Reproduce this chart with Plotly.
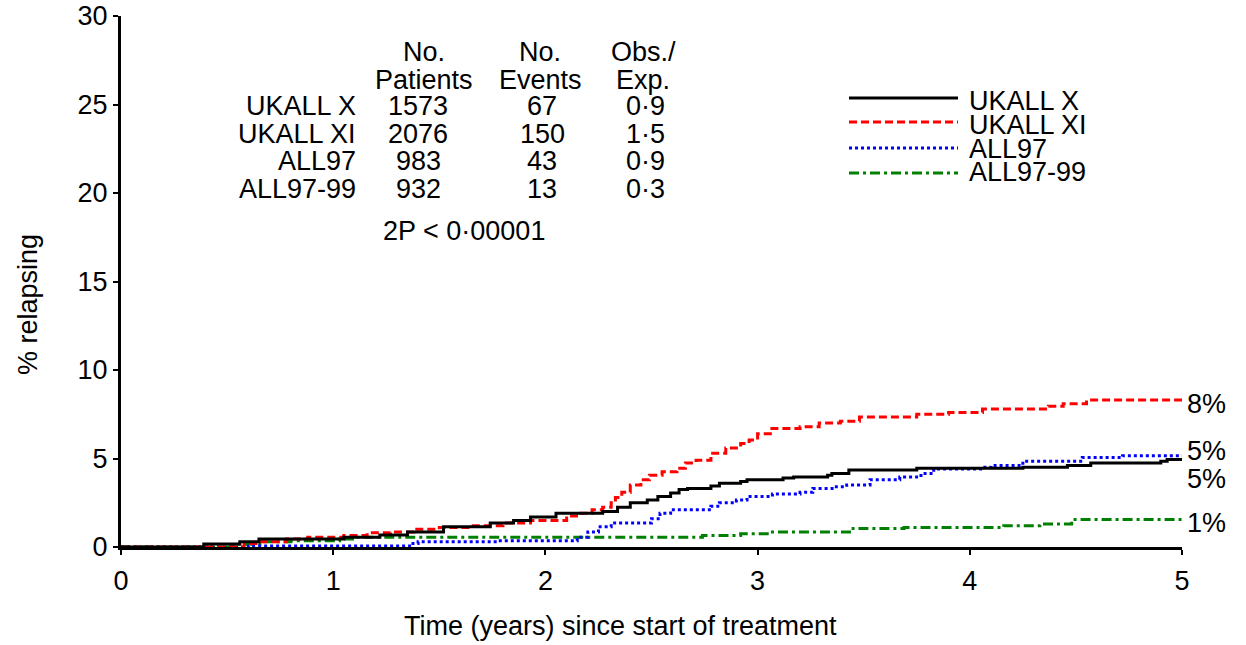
import plotly.graph_objects as go

# ---- data ----
years = [0, 1, 2, 3, 4, 5]
pct_ticks = [0, 5, 10, 15, 20, 25, 30]

series_names = ["UKALL X", "UKALL XI", "ALL97", "ALL97-99"]

ukx_t = [0, 0.39, 0.56, 0.65, 1.05, 1.22, 1.35, 1.52, 1.74, 1.85, 1.93, 2.05, 2.27, 2.34, 2.40,
         2.48, 2.53, 2.59, 2.63, 2.67, 2.78, 2.82, 2.92, 2.95, 3.12, 3.17, 3.33, 3.35, 3.43, 3.75,
         4.25, 4.46, 4.57, 4.90, 4.93, 5.0]
ukx_v = [0, 0.17, 0.3, 0.45, 0.55, 0.68, 0.85, 1.15, 1.35, 1.5, 1.7, 1.9, 2.0, 2.25, 2.5,
         2.65, 2.85, 3.05, 3.25, 3.3, 3.45, 3.6, 3.7, 3.8, 3.9, 3.95, 4.05, 4.15, 4.35, 4.45,
         4.5, 4.6, 4.75, 4.85, 4.95, 4.95]

ukxi_t = [0, 0.58, 0.65, 0.78, 0.88, 1.05, 1.16, 1.27, 1.38, 1.5, 1.66, 1.8, 1.93, 2.1, 2.16,
          2.22, 2.27, 2.31, 2.33, 2.36, 2.40, 2.45, 2.49, 2.55, 2.62, 2.66, 2.71, 2.78, 2.85,
          2.92, 2.96, 3.0, 3.06, 3.2, 3.29, 3.39, 3.48, 3.75, 3.9, 4.06, 4.37, 4.44, 4.55, 5.0]
ukxi_v = [0, 0.2, 0.3, 0.45, 0.55, 0.65, 0.8, 0.85, 1.0, 1.1, 1.2, 1.35, 1.5, 1.75, 1.9,
          2.1, 2.25, 2.5, 2.8, 3.1, 3.5, 3.8, 4.05, 4.25, 4.45, 4.75, 4.9, 5.3, 5.6,
          5.85, 6.05, 6.4, 6.7, 6.8, 7.0, 7.1, 7.35, 7.5, 7.6, 7.8, 7.95, 8.1, 8.3, 8.3]

all97_t = [0, 0.6, 1.36, 1.4, 1.78, 2.15, 2.2, 2.25, 2.31, 2.5, 2.54, 2.59, 2.78, 2.82, 2.9,
           2.95, 3.07, 3.2, 3.26, 3.36, 3.42, 3.53, 3.67, 3.77, 3.83, 4.06, 4.1, 4.25, 4.53,
           4.72, 5.0]
all97_v = [0, 0.05, 0.2, 0.3, 0.35, 0.55, 0.85, 1.15, 1.35, 1.6, 1.9, 2.1, 2.3, 2.5, 2.65,
           2.85, 3.0, 3.1, 3.3, 3.4, 3.5, 3.8, 3.95, 4.15, 4.4, 4.5, 4.6, 4.85, 5.05,
           5.15, 5.15]

all9799_t = [0, 0.53, 0.67, 0.8, 1.03, 1.11, 2.74, 2.92, 3.06, 3.45, 3.69, 4.16, 4.33, 4.48, 5.0]
all9799_v = [0, 0.15, 0.3, 0.35, 0.45, 0.55, 0.65, 0.75, 0.85, 1.05, 1.1, 1.2, 1.3, 1.55, 1.55]

end_labels = ["8%", "5%", "5%", "1%"]
end_label_y = [8.1, 5.4, 3.85, 1.35]

table_header1 = ["No.", "No.", "Obs./"]
table_header2 = ["Patients", "Events", "Exp."]
n_patients = ["1573", "2076", "983", "932"]
n_events = ["67", "150", "43", "13"]
obs_exp = ["0·9", "1·5", "0·9", "0·3"]
p_text = "2P < 0·00001"

# ---- styling ----
FONT = "Liberation Sans, Arial, sans-serif"
FS = 27
colors = ["#000000", "#ff0000", "#0000ff", "#008000"]
dashes = ["solid", "8px,4px", "3px,3px", "10px,4px,3px,4px"]

W, H = 1246, 645
L, R, T, B = 121, 64, 16, 98
PW, PH = W - L - R, H - T - B


def px2paper(px):
    return (px - L) / PW


def py2paper(py):
    return (H - B - py) / PH


def tfont():
    return dict(size=FS, color="black", family=FONT)


fig = go.Figure()
data = [(ukx_t, ukx_v), (ukxi_t, ukxi_v), (all97_t, all97_v), (all9799_t, all9799_v)]
order = [3, 2, 1, 0]
for i in order:
    t, v = data[i]
    fig.add_trace(go.Scatter(x=t, y=v, mode="lines", line_shape="hv", name=series_names[i],
                             line=dict(color=colors[i], width=3, dash=dashes[i]),
                             showlegend=False, hoverinfo="skip"))

annotations = []
# end-of-curve labels
for lab, yy in zip(end_labels, end_label_y):
    annotations.append(dict(x=5, y=yy, xref="x", yref="y", text=lab, showarrow=False,
                            xanchor="left", xshift=3, font=tfont()))

# table
col_px = [424, 540, 643]
row_py = [106, 134, 161, 189]
for cx, h1, h2 in zip(col_px, table_header1, table_header2):
    annotations.append(dict(x=px2paper(cx), y=py2paper(52), xref="paper", yref="paper", text=h1,
                            showarrow=False, xanchor="center", yanchor="middle", font=tfont()))
    annotations.append(dict(x=px2paper(cx), y=py2paper(80), xref="paper", yref="paper", text=h2,
                            showarrow=False, xanchor="center", yanchor="middle", font=tfont()))
for k in range(4):
    yy = py2paper(row_py[k])
    for px, txt, anc in [(358, series_names[k], "right"), (418, n_patients[k], "center"),
                         (542, n_events[k], "center"), (645, obs_exp[k], "center")]:
        annotations.append(dict(x=px2paper(px), y=yy, xref="paper", yref="paper", text=txt,
                                showarrow=False, xanchor=anc, yanchor="middle", font=tfont()))
annotations.append(dict(x=px2paper(464), y=py2paper(231), xref="paper", yref="paper", text=p_text,
                        showarrow=False, xanchor="center", yanchor="middle", font=tfont()))

# legend (manual)
shapes = []
leg_line_py = [98, 122, 148, 173]
leg_text_py = [101, 125, 149, 172]
for k in range(4):
    shapes.append(dict(type="line", xref="paper", yref="paper", x0=px2paper(849), x1=px2paper(958),
                       y0=py2paper(leg_line_py[k]), y1=py2paper(leg_line_py[k]),
                       line=dict(color=colors[k], width=3, dash=dashes[k])))
    annotations.append(dict(x=px2paper(967), y=py2paper(leg_text_py[k]), xref="paper", yref="paper",
                            text=series_names[k], showarrow=False, xanchor="left", yanchor="middle",
                            font=tfont()))

# axis titles
annotations.append(dict(x=px2paper(620), y=py2paper(626), xref="paper", yref="paper",
                        text="Time (years) since start of treatment",
                        showarrow=False, xanchor="center", yanchor="middle", font=tfont()))
annotations.append(dict(x=px2paper(28), y=py2paper(305), xref="paper", yref="paper", text="% relapsing",
                        showarrow=False, xanchor="center", yanchor="middle", textangle=-90, font=tfont()))

axis_common = dict(showgrid=False, zeroline=False, showline=True, linecolor="black", linewidth=3,
                   ticks="outside", ticklen=5, tickwidth=2, tickcolor="black",
                   tickfont=dict(size=FS, family=FONT, color="black"), layer="below traces",
                   fixedrange=True, automargin=False)

fig.update_layout(
    width=W, height=H,
    margin=dict(l=L, r=R, t=T, b=B, autoexpand=False),
    paper_bgcolor="white", plot_bgcolor="white",
    font=dict(family=FONT, size=FS, color="black"),
    showlegend=False,
    annotations=annotations,
    shapes=shapes,
    xaxis=dict(range=[0, 5], tickvals=years, ticktext=[str(y) for y in years],
               ticklabelstandoff=3, **axis_common),
    yaxis=dict(range=[0, 30], tickvals=pct_ticks, ticktext=[str(p) for p in pct_ticks], **axis_common),
)

fig.write_html("out.html")
